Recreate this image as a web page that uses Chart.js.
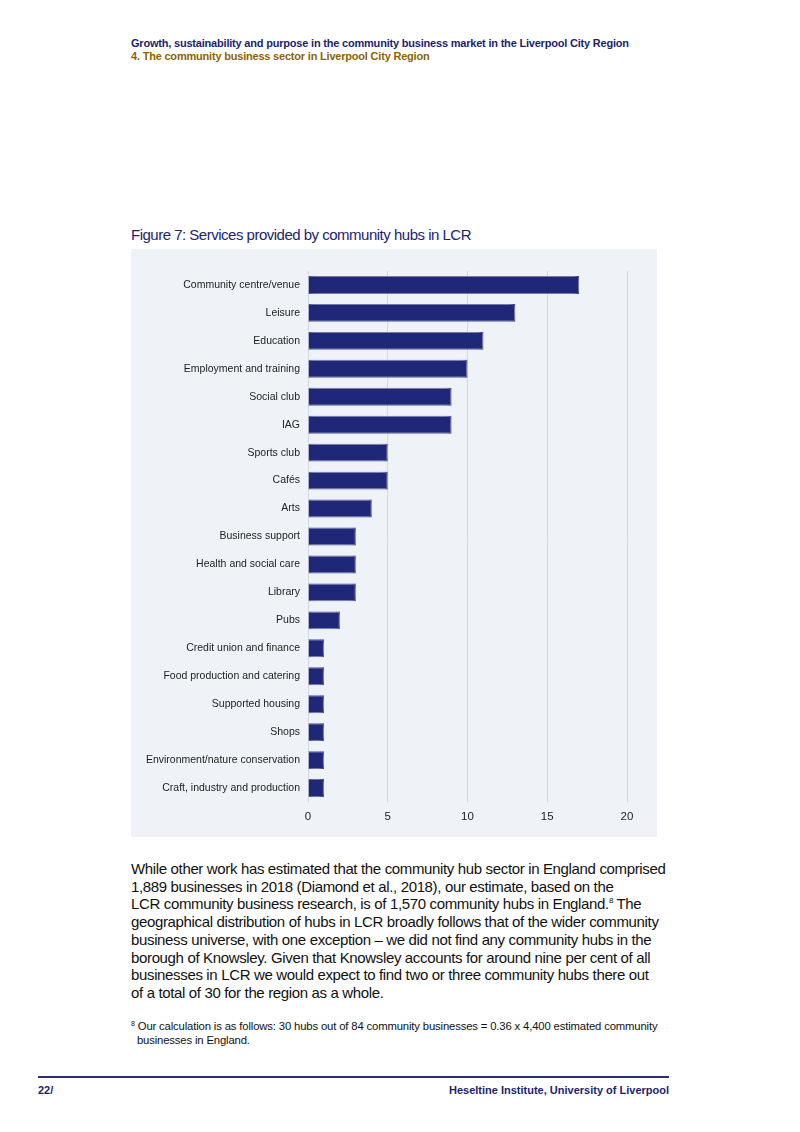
<!DOCTYPE html>
<html>
<head>
<meta charset="utf-8">
<script src="https://cdn.jsdelivr.net/npm/chart.js@4.4.1/dist/chart.umd.min.js"></script>
<style>
  html,body{margin:0;padding:0;background:#fff;}
  body{width:800px;height:1132px;position:relative;font-family:"Liberation Sans",Arial,sans-serif;overflow:hidden;}
  .abs{position:absolute;white-space:nowrap;}
  #h1{left:131px;top:37px;font-size:11px;font-weight:bold;color:#1b1f6b;letter-spacing:-0.2px;}
  #h2{left:131px;top:50px;font-size:11px;font-weight:bold;color:#8f6300;letter-spacing:-0.2px;}
  #title{left:131px;top:226px;font-size:15px;color:#1c2470;letter-spacing:-0.5px;}
  #panel{left:131px;top:249px;width:526px;height:588px;background:#eff3f7;}
  #body{left:131px;top:860px;font-size:15px;line-height:17.7px;color:#111;letter-spacing:-0.35px;}
  #body sup{font-size:8px;vertical-align:6px;line-height:0;}
  #fn{left:131px;top:1019px;font-size:11.3px;line-height:14px;color:#111;letter-spacing:-0.15px;}
  #fn sup{font-size:7px;vertical-align:4px;line-height:0;}
  #rule{left:38px;top:1076px;width:631px;height:1.5px;background:#2a2f78;}
  #pg{left:38px;top:1084px;font-size:11px;font-weight:bold;color:#1b1f6b;}
  #inst{right:131px;top:1084px;font-size:11px;font-weight:bold;color:#1b1f6b;}
</style>
</head>
<body>
<div class="abs" id="h1">Growth, sustainability and purpose in the community business market in the Liverpool City Region</div>
<div class="abs" id="h2">4. The community business sector in Liverpool City Region</div>
<div class="abs" id="title">Figure 7: Services provided by community hubs in LCR</div>
<div class="abs" id="panel"><canvas id="c" width="526" height="588"></canvas></div>
<div class="abs" id="body">While other work has estimated that the community hub sector in England comprised<br>1,889 businesses in 2018 (Diamond et al., 2018), our estimate, based on the<br>LCR community business research, is of 1,570 community hubs in England.<sup>8</sup> The<br>geographical distribution of hubs in LCR broadly follows that of the wider community<br>business universe, with one exception – we did not find any community hubs in the<br>borough of Knowsley. Given that Knowsley accounts for around nine per cent of all<br>businesses in LCR we would expect to find two or three community hubs there out<br>of a total of 30 for the region as a whole.</div>
<div class="abs" id="fn"><sup>8</sup> Our calculation is as follows: 30 hubs out of 84 community businesses = 0.36 x 4,400 estimated community<br>&nbsp;&nbsp;businesses in England.</div>
<div class="abs" id="rule"></div>
<div class="abs" id="pg">22/</div>
<div class="abs" id="inst" style="right:131px">Heseltine Institute, University of Liverpool</div>
<script>
const categories = ["Community centre/venue","Leisure","Education","Employment and training","Social club","IAG","Sports club","Cafés","Arts","Business support","Health and social care","Library","Pubs","Credit union and finance","Food production and catering","Supported housing","Shops","Environment/nature conservation","Craft, industry and production"];
const values = [17,13,11,10,9,9,5,5,4,3,3,3,2,1,1,1,1,1,1];
const xTicks = [0,5,10,15,20];

const glow = {
  id:'glow',
  beforeDatasetsDraw(chart){ const c=chart.ctx; c.save(); c.shadowColor='rgba(255,255,255,1)'; c.shadowBlur=6; },
  afterDatasetsDraw(chart){ chart.ctx.restore(); }
};

new Chart(document.getElementById('c'), {
  type:'bar',
  data:{labels:categories, datasets:[{data:values, backgroundColor:'#1f2878', borderColor:'#0c1160', borderWidth:1, barPercentage:0.64, categoryPercentage:1}]},
  options:{
    indexAxis:'y', responsive:false, animation:false,
    layout:{padding:{top:22,right:30,bottom:0,left:0}},
    plugins:{legend:{display:false},tooltip:{enabled:false}},
    scales:{
      x:{min:0,max:20,
        afterBuildTicks(s){ s.ticks = xTicks.map(v=>({value:v})); },
        afterFit(s){ s.height=35; },
        grid:{color:'#d2d8df',lineWidth:1,drawTicks:false},
        border:{display:false},
        ticks:{padding:8,color:'#222',font:{family:'Liberation Sans',size:11.5}}
      },
      y:{
        afterFit(s){ s.width=177; },
        grid:{display:false},
        border:{display:false},
        ticks:{padding:0,color:'#222',font:{family:'Liberation Sans',size:10.5}}
      }
    }
  },
  plugins:[glow]
});
</script>
</body>
</html>
